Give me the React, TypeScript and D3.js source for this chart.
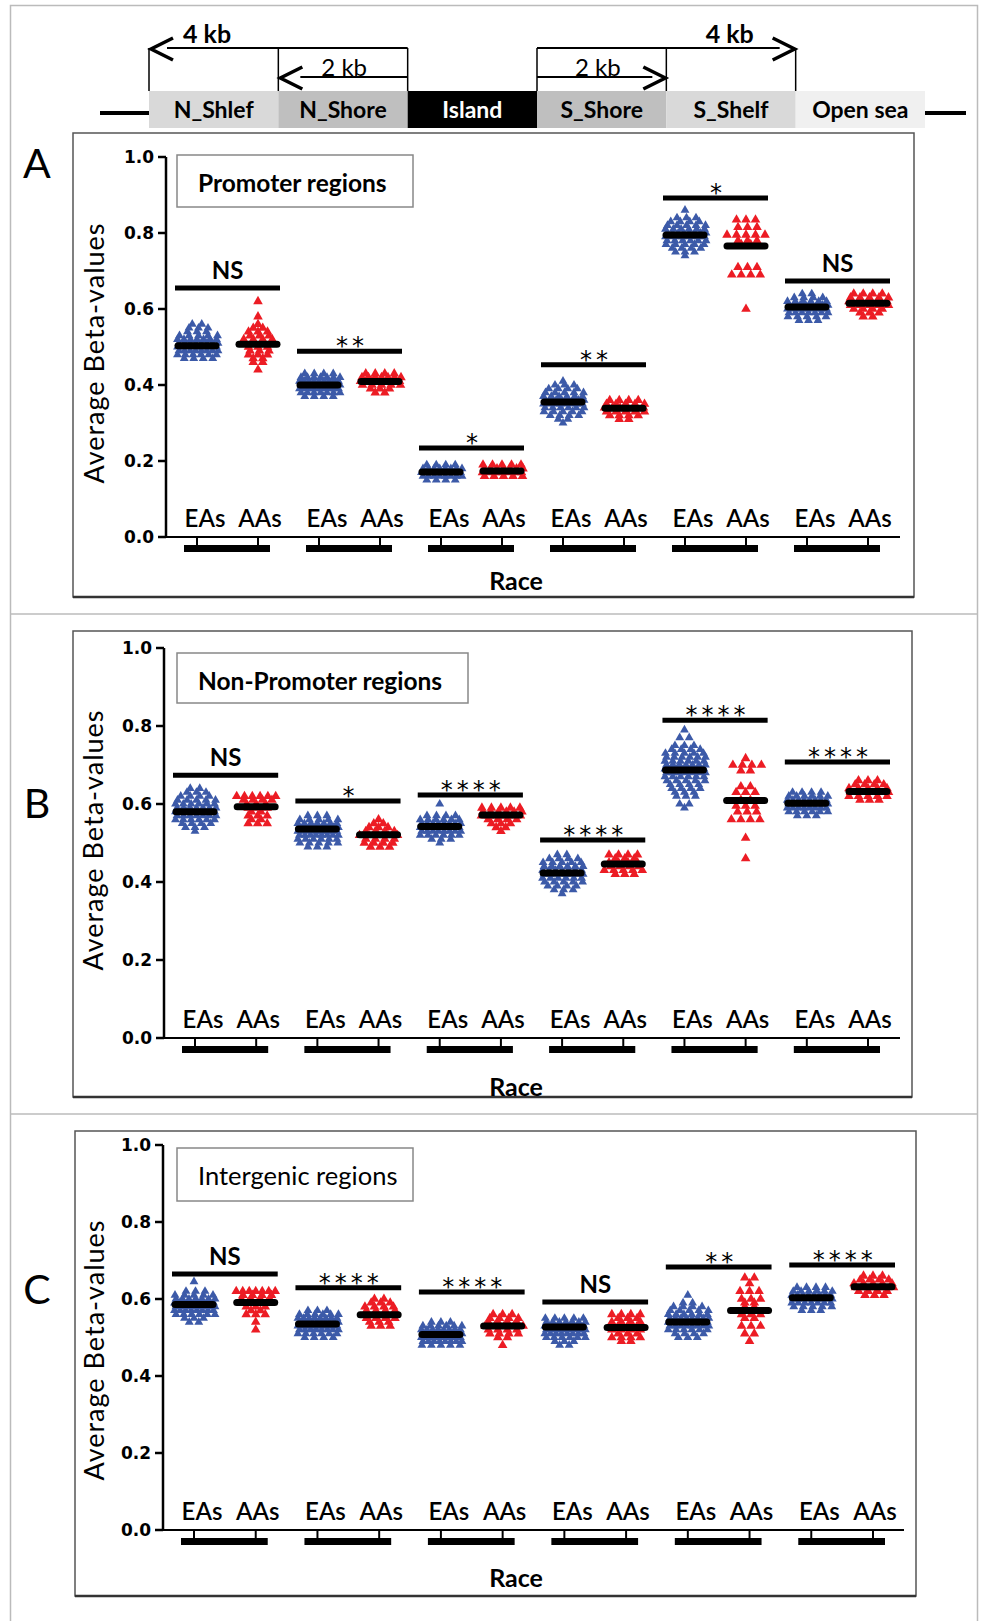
import React from "react";
import * as d3 from "d3";

// CpG island schematic
const regions = ["N_Shlef", "N_Shore", "Island", "S_Shore", "S_Shelf", "Open sea"];
const races = ["EAs", "AAs"];
const yTicks = [0, 0.2, 0.4, 0.6, 0.8, 1.0];

// each swarm is a list of [beta value, number of samples sitting at that level]
const promoterEAs = [
  [[0.56, 2], [0.55, 3], [0.54, 3], [0.53, 5], [0.52, 7], [0.51, 8], [0.5, 9], [0.49, 8], [0.48, 6], [0.47, 4]],
  [[0.43, 4], [0.42, 7], [0.41, 9], [0.4, 10], [0.39, 9], [0.38, 7], [0.37, 4]],
  [[0.19, 4], [0.18, 8], [0.17, 10], [0.16, 8], [0.15, 4]],
  [[0.41, 1], [0.4, 3], [0.39, 4], [0.38, 5], [0.37, 6], [0.36, 8], [0.35, 8], [0.34, 6], [0.33, 5], [0.32, 4], [0.31, 2], [0.3, 1]],
  [[0.86, 1], [0.84, 3], [0.83, 4], [0.82, 5], [0.81, 6], [0.8, 8], [0.79, 8], [0.78, 6], [0.77, 5], [0.76, 4], [0.75, 3], [0.74, 1]],
  [[0.64, 2], [0.63, 4], [0.62, 6], [0.61, 8], [0.6, 9], [0.59, 7], [0.58, 5], [0.57, 3]],
];
const promoterAAs = [
  [[0.62, 1], [0.58, 1], [0.56, 1], [0.55, 2], [0.54, 3], [0.53, 3], [0.52, 4], [0.51, 4], [0.5, 3], [0.49, 3], [0.48, 3], [0.47, 2], [0.46, 2], [0.44, 1]],
  [[0.43, 4], [0.42, 7], [0.41, 8], [0.4, 5], [0.39, 3], [0.38, 2]],
  [[0.19, 5], [0.18, 7], [0.17, 7], [0.16, 5]],
  [[0.36, 4], [0.35, 5], [0.34, 6], [0.33, 5], [0.32, 4], [0.31, 2]],
  [[0.835, 3], [0.815, 3], [0.795, 5], [0.78, 3], [0.77, 2], [0.71, 3], [0.69, 4], [0.6, 1]],
  [[0.64, 4], [0.63, 5], [0.62, 5], [0.61, 5], [0.6, 4], [0.59, 3], [0.58, 2]],
];
const promoterMeanEAs = [0.503, 0.4, 0.171, 0.355, 0.795, 0.605];
const promoterMeanAAs = [0.507, 0.409, 0.174, 0.339, 0.766, 0.615];
const promoterSigAt = [0.655, 0.489, 0.234, 0.453, 0.892, 0.674];
const promoterSig = ["NS", "**", "*", "**", "*", "NS"];

const nonPromoterEAs = [
  [[0.64, 2], [0.63, 3], [0.62, 4], [0.61, 5], [0.6, 6], [0.59, 7], [0.58, 8], [0.57, 7], [0.56, 6], [0.55, 4], [0.54, 3], [0.53, 1]],
  [[0.57, 3], [0.56, 5], [0.55, 7], [0.54, 9], [0.53, 9], [0.52, 8], [0.51, 6], [0.5, 5], [0.49, 3]],
  [[0.6, 1], [0.57, 4], [0.56, 6], [0.55, 8], [0.54, 10], [0.53, 8], [0.52, 6], [0.51, 3], [0.5, 1]],
  [[0.47, 2], [0.46, 4], [0.45, 5], [0.44, 6], [0.43, 7], [0.42, 8], [0.41, 6], [0.4, 5], [0.39, 4], [0.38, 3], [0.37, 1]],
  [[0.79, 1], [0.77, 2], [0.75, 3], [0.74, 4], [0.73, 5], [0.72, 6], [0.71, 6], [0.7, 7], [0.69, 8], [0.68, 7], [0.67, 6], [0.66, 5], [0.65, 4], [0.64, 4], [0.63, 3], [0.62, 3], [0.6, 2], [0.59, 1]],
  [[0.63, 4], [0.62, 6], [0.61, 8], [0.6, 9], [0.59, 8], [0.58, 6], [0.57, 3]],
];
const nonPromoterAAs = [
  [[0.62, 6], [0.61, 4], [0.6, 3], [0.59, 3], [0.58, 2], [0.57, 3], [0.56, 2], [0.55, 3]],
  [[0.56, 1], [0.55, 2], [0.54, 3], [0.53, 4], [0.52, 5], [0.51, 4], [0.5, 4], [0.49, 3]],
  [[0.59, 5], [0.58, 6], [0.57, 6], [0.56, 4], [0.55, 3], [0.54, 2], [0.53, 1]],
  [[0.47, 4], [0.46, 3], [0.45, 4], [0.44, 4], [0.43, 5], [0.42, 3]],
  [[0.717, 1], [0.7, 4], [0.685, 2], [0.645, 2], [0.63, 3], [0.61, 2], [0.595, 3], [0.58, 3], [0.56, 4], [0.513, 1], [0.46, 1]],
  [[0.66, 3], [0.65, 4], [0.64, 5], [0.63, 5], [0.62, 5], [0.61, 3]],
];
const nonPromoterMeanEAs = [0.58, 0.536, 0.542, 0.423, 0.687, 0.602];
const nonPromoterMeanAAs = [0.593, 0.521, 0.572, 0.446, 0.609, 0.632];
const nonPromoterSigAt = [0.674, 0.608, 0.623, 0.508, 0.815, 0.708];
const nonPromoterSig = ["NS", "*", "****", "****", "****", "****"];

const intergenicEAs = [
  [[0.645, 1], [0.62, 3], [0.61, 5], [0.6, 7], [0.59, 9], [0.58, 10], [0.57, 8], [0.56, 6], [0.55, 3], [0.54, 2]],
  [[0.57, 3], [0.56, 6], [0.55, 8], [0.54, 10], [0.53, 10], [0.52, 8], [0.51, 6], [0.5, 4]],
  [[0.54, 3], [0.53, 6], [0.52, 8], [0.51, 10], [0.5, 10], [0.49, 8], [0.48, 5]],
  [[0.55, 5], [0.54, 7], [0.53, 9], [0.52, 9], [0.51, 8], [0.5, 6], [0.49, 3], [0.48, 2]],
  [[0.61, 1], [0.59, 2], [0.58, 4], [0.57, 5], [0.56, 6], [0.55, 8], [0.54, 9], [0.53, 8], [0.52, 6], [0.51, 4], [0.5, 3]],
  [[0.63, 4], [0.62, 6], [0.61, 8], [0.6, 9], [0.59, 7], [0.58, 5], [0.57, 3]],
];
const intergenicAAs = [
  [[0.62, 7], [0.61, 4], [0.6, 4], [0.59, 3], [0.58, 3], [0.57, 2], [0.56, 3], [0.54, 1], [0.52, 1]],
  [[0.6, 2], [0.59, 3], [0.58, 4], [0.57, 4], [0.56, 4], [0.55, 4], [0.54, 3], [0.53, 3]],
  [[0.56, 3], [0.55, 4], [0.54, 4], [0.53, 5], [0.52, 4], [0.51, 4], [0.5, 2], [0.48, 1]],
  [[0.56, 4], [0.55, 3], [0.54, 4], [0.53, 3], [0.52, 4], [0.51, 3], [0.5, 4], [0.49, 2]],
  [[0.655, 2], [0.64, 1], [0.62, 3], [0.6, 3], [0.59, 2], [0.58, 2], [0.57, 2], [0.56, 3], [0.55, 2], [0.53, 3], [0.51, 2], [0.49, 1]],
  [[0.66, 3], [0.65, 4], [0.64, 5], [0.63, 5], [0.62, 4], [0.61, 3]],
];
const intergenicMeanEAs = [0.586, 0.535, 0.508, 0.527, 0.54, 0.603];
const intergenicMeanAAs = [0.591, 0.559, 0.53, 0.526, 0.57, 0.632];
const intergenicSigAt = [0.665, 0.629, 0.618, 0.592, 0.683, 0.688];
const intergenicSig = ["NS", "****", "****", "NS", "**", "****"];

const BLUE = "#3c5aa8";
const RED = "#ec1c24";
const SANS = "Lato, 'Open Sans', sans-serif";
const TICKFONT = "'DejaVu Sans', Verdana, sans-serif";

const triBlue = d3.symbol(d3.symbolTriangle, 34)();
const triRed = d3.symbol(d3.symbolTriangle, 40)();

// spread the samples of each level sideways, like a Prism scatter plot
function swarm(rows, cx, y) {
  const pts = [];
  rows.forEach(([v, n], r) => {
    const dx = n > 1 ? Math.min(9.5, 39 / (n - 1)) : 0;
    const jog = n > 2 && r % 2 ? 1.5 : 0;
    for (let i = 0; i < n; i++) pts.push([cx + jog + (i - (n - 1) / 2) * dx, y(v)]);
  });
  return pts;
}

const Schematic = () => {
  const x = d3.scaleBand().domain(regions).range([149, 925]);
  const fills = ["#d9d9d9", "#bfbfbf", "#000", "#bfbfbf", "#d9d9d9", "#f0f0f0"];
  const top4 = 48, top2 = 77, boxY = 91, boxH = 37;
  const start = (r) => x(r);
  const end = (r) => x(r) + x.bandwidth();
  const arrow = (tx, ty, dir) =>
    `M${tx - dir * 22},${ty - 11}L${tx},${ty}L${tx - dir * 22},${ty + 11}`;
  return (
    <g>
      <line x1={100} x2={start(regions[0])} y1={113} y2={113} stroke="#000" strokeWidth={4} />
      <line x1={end(regions[5])} x2={966} y1={113} y2={113} stroke="#000" strokeWidth={4} />
      {regions.map((r, i) => (
        <g key={r}>
          <rect x={x(r)} y={boxY} width={x.bandwidth()} height={boxH} fill={fills[i]} />
          <text x={x(r) + x.bandwidth() / 2} y={boxY + 27} textAnchor="middle"
            fontFamily={SANS} fontWeight="bold" fontSize={23} fill={i === 2 ? "#fff" : "#000"}>{r}</text>
        </g>
      ))}
      {/* vertical bracket legs */}
      {[start(regions[0]), start(regions[1]), start(regions[2]), end(regions[2]), end(regions[3]), end(regions[4])].map((bx, i) => (
        <line key={i} x1={bx} x2={bx} y1={top4} y2={boxY} stroke="#000" strokeWidth={1.5} />
      ))}
      {/* 4 kb brackets */}
      <line x1={start(regions[0]) + 18} x2={start(regions[2])} y1={top4} y2={top4} stroke="#000" strokeWidth={2} />
      <path d={arrow(start(regions[0]) + 2, top4 + 1, -1)} fill="none" stroke="#000" strokeWidth={3.5} />
      <line x1={end(regions[2])} x2={end(regions[4]) - 16} y1={top4} y2={top4} stroke="#000" strokeWidth={2} />
      <path d={arrow(end(regions[4]) - 1, top4 + 1, 1)} fill="none" stroke="#000" strokeWidth={3.5} />
      <text x={start(regions[0]) + 34} y={43} fontFamily={SANS} fontWeight="bold" fontSize={25}>4 kb</text>
      <text x={end(regions[4]) - 90} y={43} fontFamily={SANS} fontWeight="bold" fontSize={25}>4 kb</text>
      {/* 2 kb brackets */}
      <line x1={start(regions[1]) + 22} x2={start(regions[2])} y1={top2} y2={top2} stroke="#000" strokeWidth={2} />
      <path d={arrow(start(regions[1]) + 2, top2 + 1, -1)} fill="none" stroke="#000" strokeWidth={3.5} />
      <line x1={end(regions[2])} x2={end(regions[3]) - 14} y1={top2} y2={top2} stroke="#000" strokeWidth={2} />
      <path d={arrow(end(regions[3]) - 1, top2 + 1, 1)} fill="none" stroke="#000" strokeWidth={3.5} />
      <text x={start(regions[1]) + 43} y={76} fontFamily={SANS} fontSize={24}>2 kb</text>
      <text x={end(regions[2]) + 38} y={76} fontFamily={SANS} fontSize={24}>2 kb</text>
    </g>
  );
};

const raceShift = { EAs: 8, AAs: 2 };

const Panel = ({ p, letter, title, titleWeight, eas, aas, meanEAs, meanAAs, sigAt, sig }) => {
  const y = d3.scaleLinear().domain([0, 1]).range([p.y0, p.y1]);
  const keys = regions.flatMap((r) => races.map((s) => r + "|" + s));
  const x = d3.scalePoint().domain(keys).range(p.xr);
  const xs = (i, s) => x(regions[i] + "|" + s);
  const yAxisX = p.xr[0] - 31;

  return (
    <g>
      <rect x={p.frame[0]} y={p.frame[1]} width={p.frame[2]} height={p.frame[3]} fill="none" stroke="#555" strokeWidth={1.5} />
      <line x1={p.frame[0]} x2={p.frame[0] + p.frame[2]} y1={p.frame[1] + p.frame[3]} y2={p.frame[1] + p.frame[3]} stroke="#333" strokeWidth={2.5} />
      <text x={37} y={p.letterY} textAnchor="middle" fontFamily={SANS} fontWeight="normal" fontSize={41}>{letter}</text>

      {/* title box */}
      <rect x={p.box[0]} y={p.box[1]} width={p.box[2]} height={p.box[3]} fill="#fff" stroke="#888" strokeWidth={1.5} />
      <text x={p.box[0] + 21} y={p.box[1] + 37} fontFamily={SANS} fontWeight={titleWeight} fontSize={p.titleSize}>{title}</text>

      {/* y axis */}
      <line x1={yAxisX} x2={yAxisX} y1={y(1)} y2={y(0)} stroke="#000" strokeWidth={2.5} />
      {yTicks.map((t) => (
        <g key={t}>
          <line x1={yAxisX - 8} x2={yAxisX} y1={y(t)} y2={y(t)} stroke="#000" strokeWidth={2.5} />
          <text x={yAxisX - 12} y={y(t) + 6} textAnchor="end" fontFamily={TICKFONT} fontWeight="bold" fontSize={17}>
            {d3.format(".1f")(t)}
          </text>
        </g>
      ))}
      <text transform={`translate(${p.yTitleX},${p.yTitleY}) rotate(-90)`} textAnchor="middle" fontFamily={SANS} fontSize={27} letterSpacing={1}>
        Average Beta-values
      </text>

      {/* x axis with paired group bars */}
      <line x1={yAxisX} x2={p.axisEnd} y1={y(0)} y2={y(0)} stroke="#000" strokeWidth={2} />
      {keys.map((k) => (
        <line key={k} x1={x(k)} x2={x(k)} y1={y(0)} y2={y(0) + 9} stroke="#000" strokeWidth={2} />
      ))}
      {regions.map((r, i) => (
        <rect key={r} x={xs(i, "EAs") - 13} y={y(0) + 8} width={xs(i, "AAs") - xs(i, "EAs") + 25} height={7} fill="#000" />
      ))}
      {keys.map((k) => {
        const s = k.split("|")[1];
        return (
          <text key={k} x={x(k) + raceShift[s]} y={y(0) - 10} textAnchor="middle" fontFamily={SANS} fontWeight={600} fontSize={24}>
            {s}
          </text>
        );
      })}
      <text x={516} y={p.raceY} textAnchor="middle" fontFamily={SANS} fontWeight="bold" fontSize={25}>Race</text>

      {/* swarms */}
      {regions.map((r, i) => (
        <g key={r}>
          {swarm(eas[i], xs(i, "EAs"), y).map(([px, py], j) => (
            <path key={"e" + j} d={triBlue} transform={`translate(${px},${py})`} fill={BLUE} />
          ))}
          {swarm(aas[i], xs(i, "AAs"), y).map(([px, py], j) => (
            <path key={"a" + j} d={triRed} transform={`translate(${px},${py})`} fill={RED} />
          ))}
          <line x1={xs(i, "EAs") - 19} x2={xs(i, "EAs") + 19} y1={y(meanEAs[i])} y2={y(meanEAs[i])} stroke="#000" strokeWidth={7} strokeLinecap="round" />
          <line x1={xs(i, "AAs") - 19} x2={xs(i, "AAs") + 19} y1={y(meanAAs[i])} y2={y(meanAAs[i])} stroke="#000" strokeWidth={7} strokeLinecap="round" />
        </g>
      ))}

      {/* significance bars */}
      {regions.map((r, i) => {
        const x1 = xs(i, "EAs") - 22, x2 = xs(i, "AAs") + 22;
        const by = y(sigAt[i]);
        const ns = sig[i] === "NS";
        return (
          <g key={r}>
            <line x1={x1} x2={x2} y1={by} y2={by} stroke="#000" strokeWidth={5} />
            {ns ? (
              <text x={(x1 + x2) / 2} y={by - 9} textAnchor="middle" fontFamily={SANS} fontWeight="bold" fontSize={24}>NS</text>
            ) : (
              <text x={(x1 + x2) / 2 + 2.5} y={by + 3} textAnchor="middle" fontFamily={TICKFONT} fontSize={24} letterSpacing={4}>{sig[i]}</text>
            )}
          </g>
        );
      })}
    </g>
  );
};

const panels = [
  {
    letter: "A", title: "Promoter regions", titleWeight: "bold",
    eas: promoterEAs, aas: promoterAAs, meanEAs: promoterMeanEAs, meanAAs: promoterMeanAAs, sigAt: promoterSigAt, sig: promoterSig,
    p: { frame: [73, 133, 841, 464], y0: 537, y1: 157, xr: [197, 868], axisEnd: 900, letterY: 178, box: [177, 155, 236, 52], titleSize: 24.5, raceY: 590, yTitleX: 104, yTitleY: 353 },
  },
  {
    letter: "B", title: "Non-Promoter regions", titleWeight: "bold",
    eas: nonPromoterEAs, aas: nonPromoterAAs, meanEAs: nonPromoterMeanEAs, meanAAs: nonPromoterMeanAAs, sigAt: nonPromoterSigAt, sig: nonPromoterSig,
    p: { frame: [73, 631, 839, 466], y0: 1038, y1: 648, xr: [195, 868], axisEnd: 900, letterY: 818, box: [177, 653, 291, 50], titleSize: 24.5, raceY: 1096, yTitleX: 103, yTitleY: 840 },
  },
  {
    letter: "C", title: "Intergenic regions", titleWeight: "normal",
    eas: intergenicEAs, aas: intergenicAAs, meanEAs: intergenicMeanEAs, meanAAs: intergenicMeanAAs, sigAt: intergenicSigAt, sig: intergenicSig,
    p: { frame: [75, 1131, 841, 465], y0: 1530, y1: 1145, xr: [194, 873], axisEnd: 904, letterY: 1304, box: [177, 1148, 236, 53], titleSize: 25.5, raceY: 1587, yTitleX: 104, yTitleY: 1350 },
  },
];

export default function App() {
  return (
    <svg width={981} height={1621} style={{ position: "absolute", left: 0, top: 0, background: "#fff" }}>
      <rect x={0} y={0} width={981} height={1621} fill="#fff" />
      <rect x={10.5} y={5.5} width={967} height={1630} fill="none" stroke="#bbb" strokeWidth={1.5} />
      <line x1={10} x2={978} y1={614} y2={614} stroke="#bbb" strokeWidth={1.5} />
      <line x1={10} x2={978} y1={1114} y2={1114} stroke="#bbb" strokeWidth={1.5} />
      <Schematic />
      {panels.map((d) => (
        <Panel key={d.letter} {...d} />
      ))}
    </svg>
  );
}
